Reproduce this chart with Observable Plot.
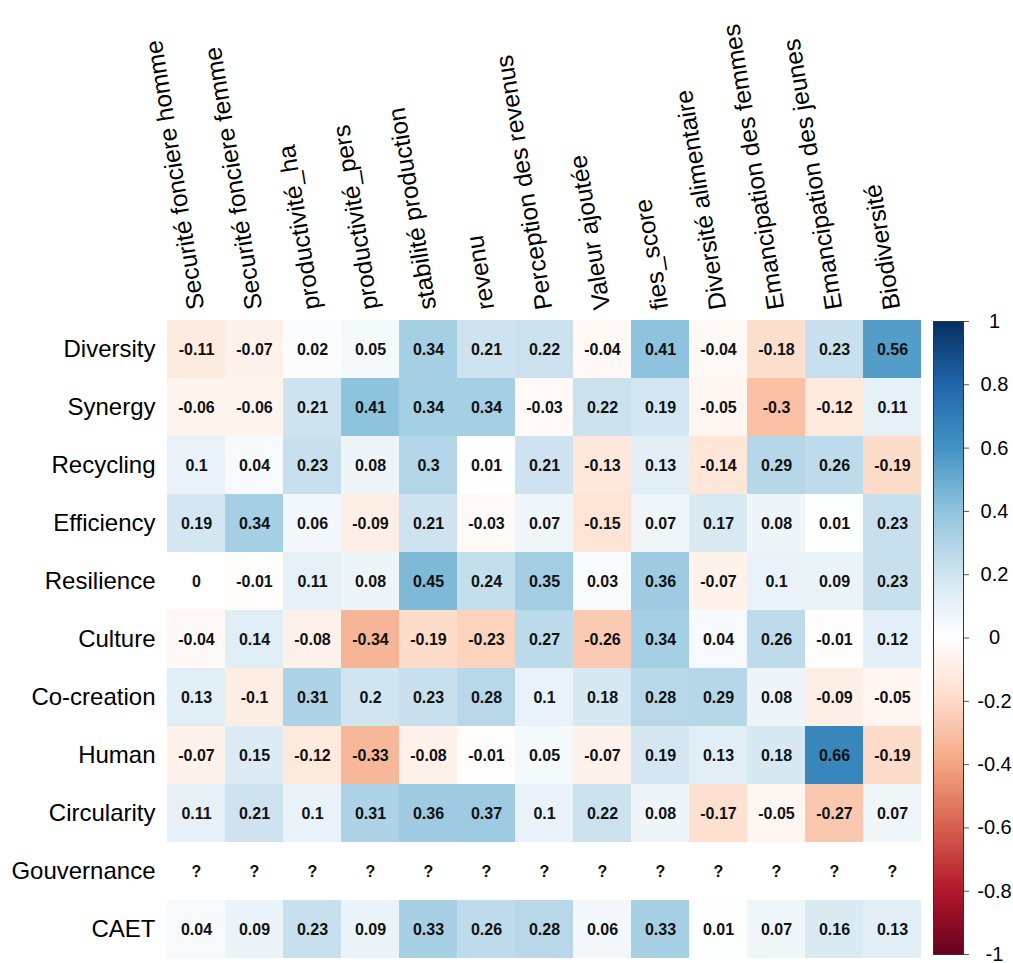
<!DOCTYPE html>
<html>
<head>
<meta charset="utf-8">
<script src="https://cdn.jsdelivr.net/npm/d3@7"></script>
<script src="https://cdn.jsdelivr.net/npm/@observablehq/plot@0.6"></script>
<style>
  body { margin: 0; background: #fff; }
  #chart { position: relative; width: 1013px; height: 963px; font-family: "Liberation Sans", Arial, sans-serif; }
  #chart svg { position: absolute; left: 0; top: 0; }
</style>
</head>
<body>
<div id="chart"></div>
<script>
// Indicators (columns)
const indicators = [
  "Securité fonciere homme", "Securité fonciere femme", "productivité_ha",
  "productivité_pers", "stabilité production", "revenu", "Perception des revenus",
  "Valeur ajoutée", "fies_score", "Diversité alimentaire", "Emancipation des femmes",
  "Emancipation des jeunes", "Biodiversité"
];

// Agroecology principles (rows)
const principles = [
  "Diversity", "Synergy", "Recycling", "Efficiency", "Resilience", "Culture",
  "Co-creation", "Human", "Circularity", "Gouvernance", "CAET"
];

// Correlation coefficients, one array per principle (null = not computable)
const diversity   = [-0.11, -0.07, 0.02, 0.05, 0.34, 0.21, 0.22, -0.04, 0.41, -0.04, -0.18, 0.23, 0.56];
const synergy     = [-0.06, -0.06, 0.21, 0.41, 0.34, 0.34, -0.03, 0.22, 0.19, -0.05, -0.3, -0.12, 0.11];
const recycling   = [0.1, 0.04, 0.23, 0.08, 0.3, 0.01, 0.21, -0.13, 0.13, -0.14, 0.29, 0.26, -0.19];
const efficiency  = [0.19, 0.34, 0.06, -0.09, 0.21, -0.03, 0.07, -0.15, 0.07, 0.17, 0.08, 0.01, 0.23];
const resilience  = [0, -0.01, 0.11, 0.08, 0.45, 0.24, 0.35, 0.03, 0.36, -0.07, 0.1, 0.09, 0.23];
const culture     = [-0.04, 0.14, -0.08, -0.34, -0.19, -0.23, 0.27, -0.26, 0.34, 0.04, 0.26, -0.01, 0.12];
const coCreation  = [0.13, -0.1, 0.31, 0.2, 0.23, 0.28, 0.1, 0.18, 0.28, 0.29, 0.08, -0.09, -0.05];
const human       = [-0.07, 0.15, -0.12, -0.33, -0.08, -0.01, 0.05, -0.07, 0.19, 0.13, 0.18, 0.66, -0.19];
const circularity = [0.11, 0.21, 0.1, 0.31, 0.36, 0.37, 0.1, 0.22, 0.08, -0.17, -0.05, -0.27, 0.07];
const gouvernance = [null, null, null, null, null, null, null, null, null, null, null, null, null];
const caet        = [0.04, 0.09, 0.23, 0.09, 0.33, 0.26, 0.28, 0.06, 0.33, 0.01, 0.07, 0.16, 0.13];

// Diverging red-blue palette and its stops
const paletteStops  = [-1, -0.8, -0.6, -0.4, -0.2, 0, 0.2, 0.4, 0.6, 0.8, 1];
const paletteColors = ["#67001F", "#B2182B", "#D6604D", "#F4A582", "#FDDBC7", "#FFFFFF",
                       "#D1E5F0", "#92C5DE", "#4393C3", "#2166AC", "#053061"];

// Colour bar ticks
const legendTicks  = [-1, -0.8, -0.6, -0.4, -0.2, 0, 0.2, 0.4, 0.6, 0.8, 1];
const legendLabels = ["-1", "-0.8", "-0.6", "-0.4", "-0.2", "0", "0.2", "0.4", "0.6", "0.8", "1"];

const rowValues = [diversity, synergy, recycling, efficiency, resilience, culture,
                   coCreation, human, circularity, gouvernance, caet];

const cells = principles.flatMap((p, j) =>
  rowValues[j].map((r, i) => ({principle: p, indicator: indicators[i], r}))
);

const colorScale = {type: "linear", domain: paletteStops, range: paletteColors, interpolate: "rgb"};
const font = "'Liberation Sans', Arial, sans-serif";

const heatmap = Plot.plot({
  width: 1013,
  height: 963,
  marginLeft: 167,
  marginRight: 92,
  marginTop: 320,
  marginBottom: 5,
  style: {fontFamily: font, background: "transparent", overflow: "visible"},
  x: {domain: indicators, padding: 0, axis: null},
  y: {domain: principles, padding: 0},
  color: colorScale,
  marks: [
    Plot.cell(cells.filter(d => d.r !== null), {x: "indicator", y: "principle", fill: "r"}),
    Plot.text(cells, {
      x: "indicator", y: "principle",
      text: d => d.r === null ? "?" : String(d.r),
      fontSize: 16, fontWeight: "bold", fill: "#111"
    }),
    Plot.axisY({tickSize: 0, tickPadding: 12, fontSize: 24, label: null, fill: "#000"}),
    Plot.text(indicators, {
      x: d => d, frameAnchor: "top", dy: -11,
      rotate: -99, textAnchor: "start", lineAnchor: "middle",
      fontSize: 24.5, fill: "#000"
    })
  ]
});

const colorbar = Plot.plot({
  width: 1013,
  height: 963,
  marginLeft: 933,
  marginRight: 50,
  marginTop: 321,
  marginBottom: 9,
  style: {fontFamily: font, background: "transparent", overflow: "visible"},
  x: {domain: [0, 1], axis: null},
  y: {domain: [-1, 1], axis: null},
  color: colorScale,
  marks: [
    Plot.raster({x1: 0, x2: 1, y1: -1, y2: 1, width: 2, height: 634, fill: (x, y) => y}),
    Plot.frame({stroke: "#333", strokeWidth: 1}),
    Plot.axisY(legendTicks, {
      anchor: "right", tickSize: 5, tickPadding: 26, fontSize: 20,
      textAnchor: "middle", label: null, stroke: "#555",
      tickFormat: d => legendLabels[legendTicks.indexOf(d)]
    })
  ]
});

const chart = document.getElementById("chart");
chart.append(heatmap, colorbar);
</script>
</body>
</html>
